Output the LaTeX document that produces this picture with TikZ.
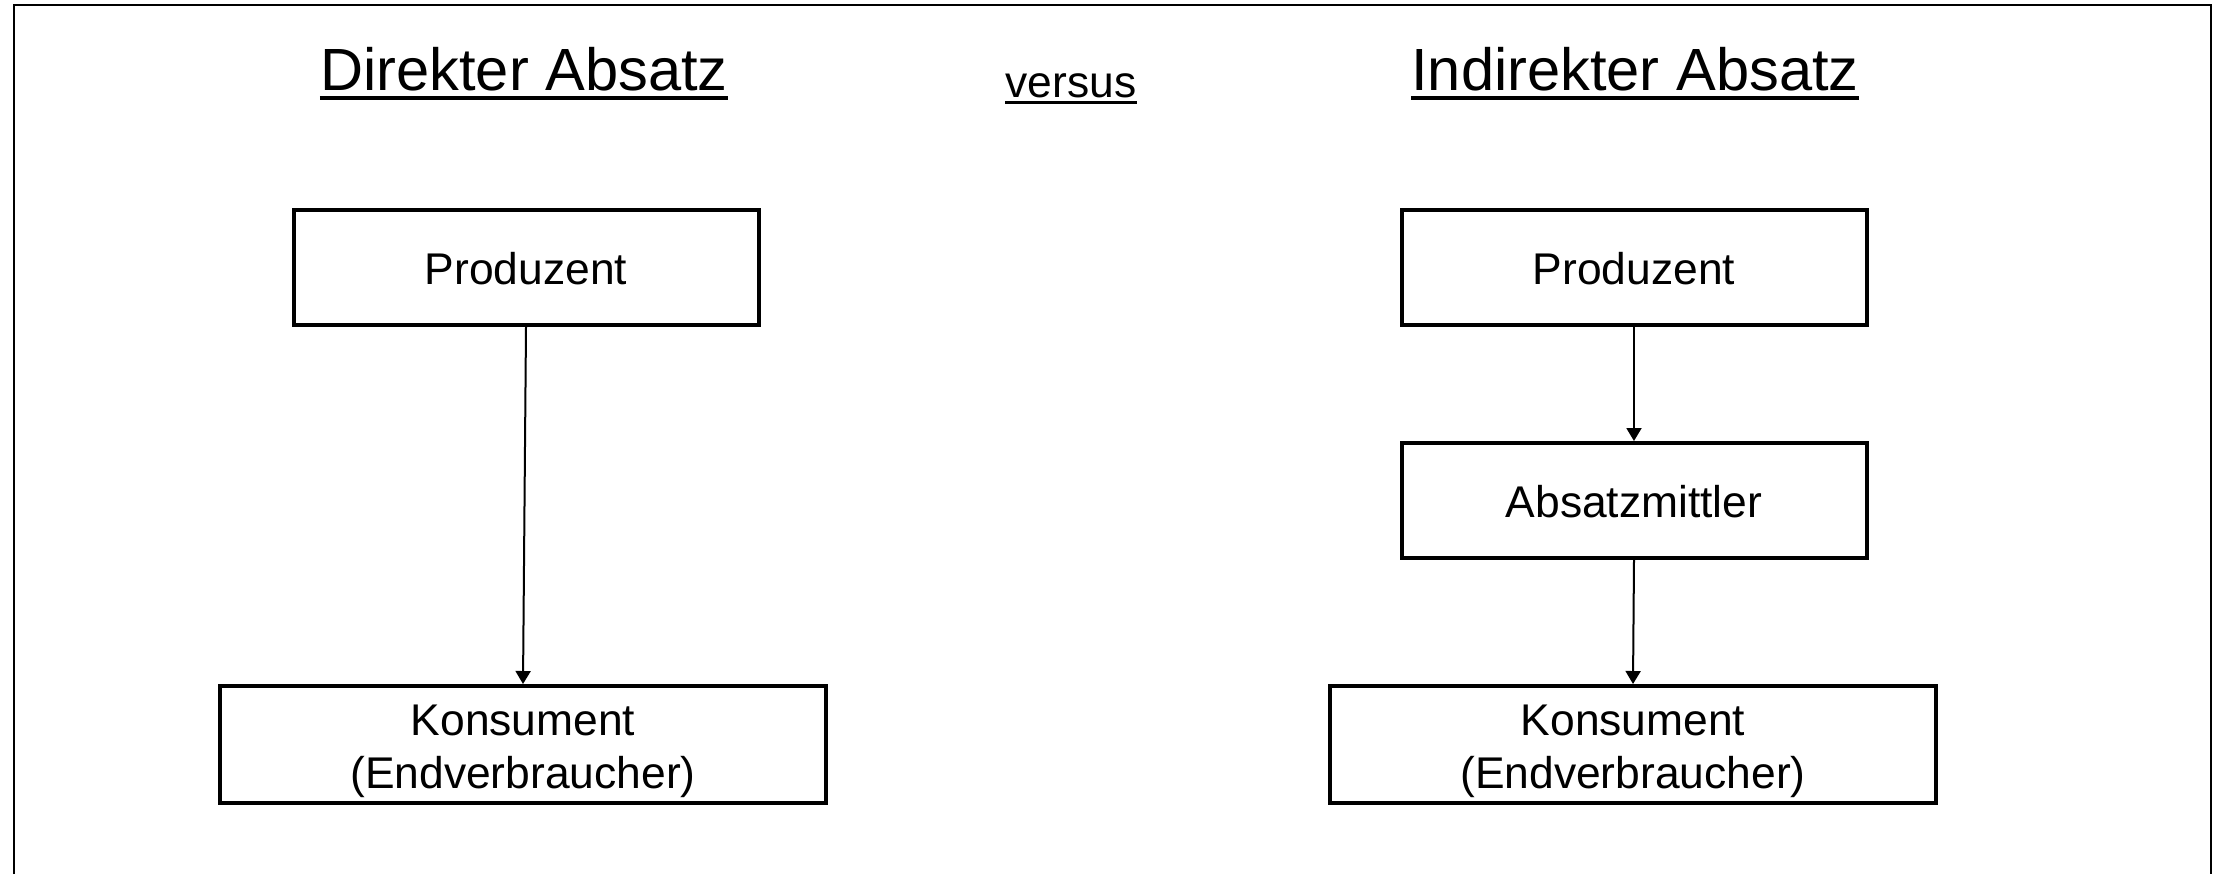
\documentclass[tikz,border=0pt]{standalone}
\usepackage{fontspec}
\setmainfont{Liberation Sans}
\usetikzlibrary{arrows.meta}
\newcommand{\onelinetext}[1]{\raisebox{-8.6pt}[0pt][0pt]{#1}}
\newcommand{\twolinetext}[2]{\raisebox{4.75pt}[0pt][0pt]{\begin{tabular}[t]{@{}c@{}}#1\\#2\end{tabular}}}
\begin{document}
\begin{tikzpicture}[x=0.5pt,y=-0.5pt,
  box/.style={draw, line width=2pt, minimum width=232.5pt, minimum height=57.5pt, inner sep=0pt,
    font=\fontsize{22.2}{26.5}\selectfont},
  widebox/.style={box, minimum width=303pt, minimum height=58.5pt},
  title/.style={inner sep=0pt, anchor=base, font=\fontsize{29.8}{35}\selectfont},
  small/.style={inner sep=0pt, anchor=base, font=\fontsize{22.2}{27}\selectfont},
  arr/.style={-{Triangle[width=7.5pt,length=6.5pt]}, line width=1pt},
  frame/.style={line width=1.3pt},
  uline/.style={line width=2pt},
  sline/.style={line width=1.5pt}]
\useasboundingbox (0,0) rectangle (2222,874);
\draw[frame] (14,874) -- (14,5) -- (2211,5) -- (2211,874);

\node[title] (t1) at (524,90) {Direkter Absatz};
\node[small] (vs) at (1071,97) {versus};
\node[title] (t2) at (1635,90) {Indirekter Absatz};
\draw[uline] ([yshift=-3.8pt]t1.base west) -- ([yshift=-3.8pt]t1.base east);
\draw[uline] ([yshift=-3.8pt]t2.base west) -- ([yshift=-3.8pt]t2.base east);
\draw[sline] ([yshift=-2.8pt]vs.base west) -- ([yshift=-2.8pt]vs.base east);

\node[box] (lp) at (526,267.5) {\onelinetext{Produzent}};
\node[widebox] (lk) at (523,744.5) {\twolinetext{Konsument}{(Endverbraucher)}};
\node[box] (rp) at (1634,267.5) {\onelinetext{Produzent}};
\node[box] (rm) at (1634,500.5) {\onelinetext{Absatzmittler}};
\node[widebox] (rk) at (1633,744.5) {\twolinetext{Konsument}{(Endverbraucher)}};

\draw[arr] (lp.south) -- (lk.north);
\draw[arr] (rp.south) -- (rm.north);
\draw[arr] (rm.south) -- (rk.north);
\end{tikzpicture}
\end{document}
